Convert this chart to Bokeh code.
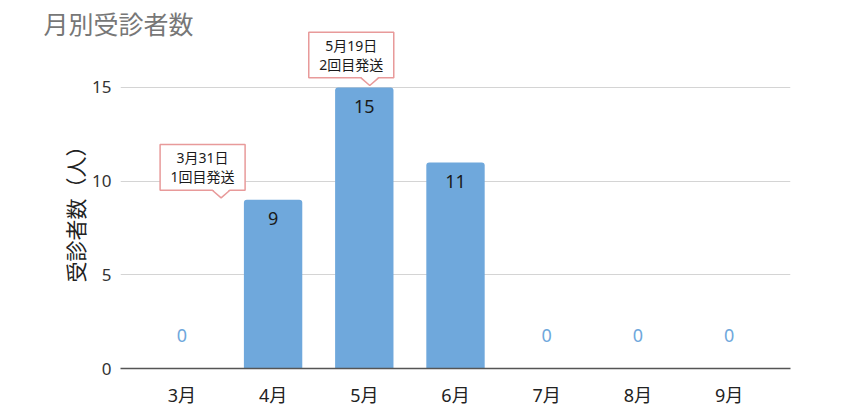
from bokeh.plotting import figure
from bokeh.models import ColumnDataSource, FixedTicker, Title, Range1d
from bokeh.core.properties import value
from bokeh.embed import file_html
from bokeh.resources import INLINE

# ---- data ----
months = ["3月", "4月", "5月", "6月", "7月", "8月", "9月"]
counts = [0, 9, 15, 11, 0, 0, 0]
y_ticks = [0, 5, 10, 15]
event_pos = [0.43, 2.06]          # position on the month axis
event_val = [9, 15]               # value the callout points at
event_date = ["3月31日", "5月19日"]
event_note = ["1回目発送", "2回目発送"]
title_text = "月別受診者数"
y_title = "受診者数（人）"

# ---- layout / style ----
FONT = "Noto Sans, Noto Sans CJK JP"
BAR = "#6fa8dc"
PINK = "#e89a9a"
W, H = 843, 418
BL, BR, BT, BB = 120, 53, 24, 50
X0, X1 = -0.673, 6.673
Y0, Y1 = 0.0, 18.36
PXX = (W - BL - BR) / (X1 - X0)
PXY = (H - BT - BB) / (Y1 - Y0)

p = figure(width=W, height=H, output_backend="svg", toolbar_location=None,
           x_range=Range1d(X0, X1), y_range=Range1d(Y0, Y1),
           min_border_left=BL, min_border_right=BR, min_border_top=BT, min_border_bottom=BB)
p.outline_line_color = None
p.xgrid.grid_line_color = None
p.ygrid.grid_line_color = "#d4d4d4"
p.ygrid.grid_line_width = 1.2
p.ygrid.ticker = FixedTicker(ticks=y_ticks)

# main title (kept in the top border)
p.title.text = title_text
p.title.align = "left"
p.title.offset = 43 - BL
p.title.vertical_align = "bottom"
p.title.standoff = -32
p.title.text_font = FONT
p.title.text_font_size = "25px"
p.title.text_font_style = "normal"
p.title.text_color = "#777777"

# y axis title
p.add_layout(Title(text=y_title, align="left", offset=86, vertical_align="bottom",
                   standoff=0, text_font=FONT, text_font_size="21px",
                   text_font_style="normal", text_color="#222222"), "left")

idx = list(range(len(months)))

# x axis
p.xaxis.ticker = FixedTicker(ticks=idx)
p.xaxis.major_label_overrides = {i: m for i, m in zip(idx, months)}
p.xaxis.axis_line_color = "#555555"
p.xaxis.axis_line_width = 1.5
p.xaxis.major_tick_line_color = None
p.xaxis.minor_tick_line_color = None
p.xaxis.major_label_standoff = 8
p.xaxis.major_label_text_font = FONT
p.xaxis.major_label_text_font_size = "18px"
p.xaxis.major_label_text_color = "#222222"

# y axis
p.yaxis.ticker = FixedTicker(ticks=y_ticks)
p.yaxis.axis_line_color = None
p.yaxis.major_tick_line_color = None
p.yaxis.minor_tick_line_color = None
p.yaxis.major_label_standoff = 3
p.yaxis.major_label_text_font = FONT
p.yaxis.major_label_text_font_size = "17px"
p.yaxis.major_label_text_color = "#333333"

# bars
bars = ColumnDataSource(dict(x=idx, top=counts))
p.vbar(x="x", top="top", width=0.64, source=bars, fill_color=BAR, line_color=None,
       border_radius=(3, 3, 0, 0))

# value labels
lab = ColumnDataSource(dict(
    x=idx, y=counts, text=[str(c) for c in counts],
    yo=[19 if c > 0 else -33 for c in counts],
    col=["#1a1a1a" if c > 0 else BAR for c in counts]))
p.text(x="x", y="y", text="text", y_offset="yo", text_color="col", source=lab,
       text_align="center", text_baseline="middle",
       text_font=value(FONT), text_font_size="18px")

# callouts
tip_y = [v + 2 / PXY for v in event_val]
bot = [t + 7.6 / PXY for t in tip_y]
top = [b + 45.7 / PXY for b in bot]
left = [x - 61 / PXX for x in event_pos]
right = [x + 24 / PXX for x in event_pos]
p.quad(left=left, right=right, bottom=bot, top=top, fill_color="white",
       line_color=PINK, line_width=1.5)
p.patches(xs=[[x - 8.8 / PXX, x + 8.8 / PXX, x] for x in event_pos],
          ys=[[b + 1.2 / PXY, b + 1.2 / PXY, t] for b, t in zip(bot, tip_y)],
          fill_color="white", line_color=None)
p.multi_line(xs=[[x - 8.8 / PXX, x, x + 8.8 / PXX] for x in event_pos],
             ys=[[b, t, b] for b, t in zip(bot, tip_y)],
             line_color=PINK, line_width=1.5)
p.text(x=[(l + r) / 2 for l, r in zip(left, right)],
       y=[(b + t) / 2 for b, t in zip(bot, top)],
       text=[d + "\n" + n for d, n in zip(event_date, event_note)],
       text_align="center", text_baseline="middle", text_line_height=1.0,
       text_font=value(FONT), text_font_size="14px", text_color="#1a1a1a")

open("out.html", "w").write(file_html(p, INLINE))
